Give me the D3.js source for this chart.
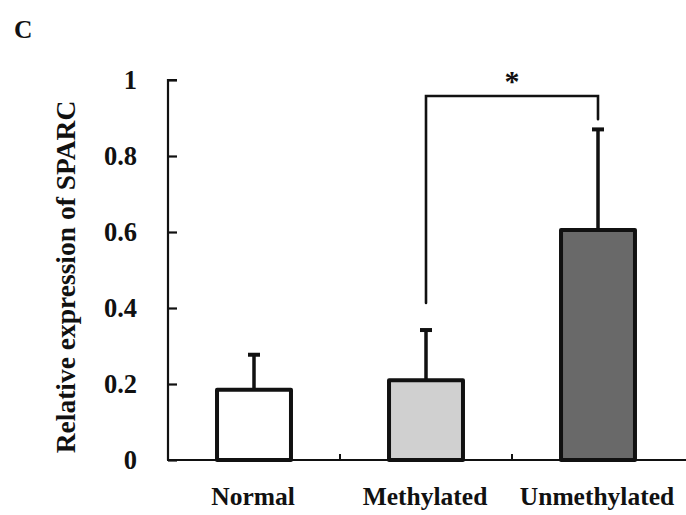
<!DOCTYPE html>
<html>
<head>
<meta charset="utf-8">
<script src="https://cdn.jsdelivr.net/npm/d3@7"></script>
<style>
  html, body { margin: 0; padding: 0; background: #fff; }
  svg { display: block; }
  text { font-family: "Liberation Serif", "Times New Roman", serif; font-weight: bold; fill: #111; }
</style>
</head>
<body>
<script>
const categories = ["Normal", "Methylated", "Unmethylated"];
const means = [0.185, 0.21, 0.605];
const errors = [0.092, 0.132, 0.265];
const fills = ["#ffffff", "#d0d0d0", "#696969"];
const yTicks = [0, 0.2, 0.4, 0.6, 0.8, 1];
const yTickLabels = ["0", "0.2", "0.4", "0.6", "0.8", "1"];
const sigPair = ["Methylated", "Unmethylated"];
const sigBracket = { top: 0.958, leftEnd: 0.413, rightEnd: 0.897, label: "*" };

const W = 686, H = 515;
const svg = d3.select("body").append("svg").attr("width", W).attr("height", H);

const x = d3.scaleBand().domain(categories).range([168, 684]).paddingInner(0.57).paddingOuter(0.285);
const y = d3.scaleLinear().domain([0, 1]).range([460, 80]);

// panel letter
svg.append("text").attr("x", 14).attr("y", 38).attr("font-size", 25.5).text("C");

// y axis
const yAxis = d3.axisRight(y).tickValues(yTicks).tickSize(9).tickFormat("");
const gy = svg.append("g").attr("transform", "translate(168,0)").call(yAxis);
gy.select(".domain").attr("d", `M9,${y(1)}H0V${y(0)}`).attr("stroke", "#111").attr("stroke-width", 2.2);
gy.selectAll(".tick line").attr("stroke", "#111").attr("stroke-width", 2.2);
svg.selectAll(".ylab").data(yTicks).enter().append("text")
  .attr("class", "ylab")
  .attr("x", 137).attr("y", d => y(d) + 9)
  .attr("text-anchor", "end").attr("font-size", 26.5)
  .text((d, i) => yTickLabels[i]);

// x axis
svg.append("line").attr("x1", 167).attr("x2", 686).attr("y1", y(0)).attr("y2", y(0))
  .attr("stroke", "#111").attr("stroke-width", 2.2);
const step = x.step();
const sepTicks = categories.slice(1).map(c => x(c) - x.paddingInner() * step / 2);
svg.selectAll(".xtick").data(sepTicks).enter().append("line")
  .attr("x1", d => d).attr("x2", d => d).attr("y1", y(0)).attr("y2", y(0) - 6)
  .attr("stroke", "#111").attr("stroke-width", 2);
svg.selectAll(".xlab").data(categories).enter().append("text")
  .attr("x", d => x(d) + x.bandwidth() / 2 - 1).attr("y", 505)
  .attr("text-anchor", "middle").attr("font-size", 25.5)
  .text(d => d);

// y label
svg.append("text")
  .attr("transform", `translate(75,${(y(0) + y(1)) / 2 + 7}) rotate(-90)`)
  .attr("text-anchor", "middle").attr("font-size", 27.5)
  .text("Relative expression of SPARC");

// error bars
const eb = svg.selectAll(".err").data(categories).enter().append("g");
eb.append("line")
  .attr("x1", d => x(d) + x.bandwidth() / 2).attr("x2", d => x(d) + x.bandwidth() / 2)
  .attr("y1", (d, i) => y(means[i])).attr("y2", (d, i) => y(means[i] + errors[i]))
  .attr("stroke", "#111").attr("stroke-width", 3.5);
eb.append("line")
  .attr("x1", d => x(d) + x.bandwidth() / 2 - 6).attr("x2", d => x(d) + x.bandwidth() / 2 + 6)
  .attr("y1", (d, i) => y(means[i] + errors[i])).attr("y2", (d, i) => y(means[i] + errors[i]))
  .attr("stroke", "#111").attr("stroke-width", 4);

// bars
svg.selectAll(".bar").data(categories).enter().append("rect")
  .attr("x", d => x(d)).attr("width", x.bandwidth())
  .attr("y", (d, i) => y(means[i])).attr("height", (d, i) => y(0) - y(means[i]))
  .attr("fill", (d, i) => fills[i]).attr("stroke", "#111").attr("stroke-width", 4)
  .attr("stroke-linejoin", "round");

// significance bracket
const xl = x(sigPair[0]) + x.bandwidth() / 2, xr = x(sigPair[1]) + x.bandwidth() / 2;
svg.append("path")
  .attr("d", `M${xl},${y(sigBracket.leftEnd)}V${y(sigBracket.top)}H${xr}V${y(sigBracket.rightEnd)}`)
  .attr("fill", "none").attr("stroke", "#111").attr("stroke-width", 2.6).attr("stroke-linecap", "round");
svg.append("text").attr("x", (xl + xr) / 2).attr("y", 91)
  .attr("text-anchor", "middle").attr("font-size", 30).text(sigBracket.label);
</script>
</body>
</html>
